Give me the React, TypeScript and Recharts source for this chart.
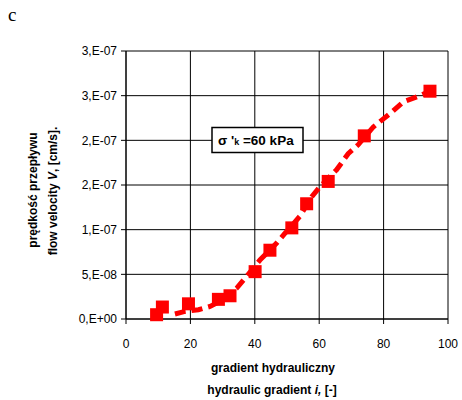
import React from "react"
import { CartesianGrid, Scatter, ScatterChart, XAxis, YAxis } from "recharts"

// hydraulic gradient i [-] vs flow velocity V [cm/s]
const lineGradient = [15.2, 18.3, 22.5, 26.1, 30.2, 34.4, 37.0, 41.6, 46.8, 49.4, 54.0, 57.7, 60.2, 65.4, 69.0, 72.1, 76.8, 82.0, 86.1, 91.3, 94.4]
const lineVelocity = [5.6e-9, 8.5e-9, 1.04e-8, 1.4e-8, 2.16e-8, 3.46e-8, 4.58e-8, 6.6e-8, 8.5e-8, 9.6e-8, 1.15e-7, 1.37e-7, 1.48e-7, 1.67e-7, 1.85e-7, 1.95e-7, 2.15e-7, 2.3e-7, 2.43e-7, 2.5e-7, 2.55e-7]

const pointGradient = [9.5, 11.3, 19.4, 28.7, 32.3, 40.1, 44.7, 51.5, 56.1, 62.8, 74.0, 94.4]
const pointVelocity = [4.8e-9, 1.34e-8, 1.7e-8, 2.2e-8, 2.6e-8, 5.3e-8, 7.7e-8, 1.02e-7, 1.29e-7, 1.54e-7, 2.05e-7, 2.55e-7]

const xTicks = [0, 20, 40, 60, 80, 100]
const yTicks = [0, 5e-8, 1e-7, 1.5e-7, 2e-7, 2.5e-7, 3e-7]
const yTickLabels = ["0,E+00", "5,E-08", "1,E-07", "2,E-07", "2,E-07", "3,E-07", "3,E-07"]

const lineData = lineGradient.map((x, i) => ({ x, y: lineVelocity[i] }))
const pointData = pointGradient.map((x, i) => ({ x, y: pointVelocity[i] }))

const font = "'Liberation Sans', Arial, sans-serif"

const Square = (props: any) => {
    const { cx, cy } = props
    if (cx == null || cy == null) return <g />
    return <rect x={cx - 6.5} y={cy - 6.5} width={13} height={13} fill="#ff0000" />
}

export default function App() {
    return (
        <div style={{ position: "absolute", left: 0, top: 0, background: "#fff" }}>
            <ScatterChart width={462} height={400} margin={{ top: 51, right: 14, bottom: 0, left: 0 }}>
                <CartesianGrid stroke="#000" strokeWidth={1} />
                <XAxis
                    type="number"
                    dataKey="x"
                    domain={[0, 100]}
                    ticks={xTicks}
                    height={81}
                    tickSize={5}
                    tickMargin={15}
                    stroke="#000"
                    tick={{ fill: "#000", fontSize: 12, fontFamily: font }}
                />
                <YAxis
                    type="number"
                    dataKey="y"
                    domain={[0, 3e-7]}
                    ticks={yTicks}
                    width={126}
                    tickSize={5}
                    tickMargin={4}
                    stroke="#000"
                    tick={{ fill: "#000", fontSize: 12, fontFamily: font }}
                    tickFormatter={(v: number) => yTickLabels[yTicks.findIndex((t) => Math.abs(t - v) < 1e-12)] ?? ""}
                />
                <Scatter
                    data={lineData}
                    isAnimationActive={false}
                    line={{ stroke: "#ff0000", strokeWidth: 5, strokeDasharray: "11 6" }}
                    lineType="joint"
                    shape={() => <g />}
                />
                <Scatter data={pointData} isAnimationActive={false} shape={Square} />

                <g fontFamily={font} fontWeight="bold" fontSize={12} fill="#000">
                    <text x={33} y={190} textAnchor="middle" transform="rotate(-90 33 190)" dy="0.35em">
                        prędkość przepływu
                    </text>
                    <text x={53} y={191} textAnchor="middle" transform="rotate(-90 53 191)" dy="0.35em">
                        flow velocity <tspan fontStyle="italic">V</tspan>, [cm/s].
                    </text>
                    <text x={273} y={372} textAnchor="middle">gradient hydrauliczny</text>
                    <text x={272} y={394} textAnchor="middle">
                        hydraulic gradient <tspan fontStyle="italic">i,</tspan> [-]
                    </text>
                </g>

                <g>
                    <rect x={212} y={127.5} width={91} height={25} fill="#fff" stroke="#000" strokeWidth={1.5} />
                    <text x={218} y={145} fontFamily={font} fontWeight="bold" fontSize={13.5} fill="#000">
                        σ '<tspan fontSize={9}>k</tspan> =60 kPa
                    </text>
                </g>

                <text x={8} y={21} fontFamily="'Liberation Serif', 'Times New Roman', serif" fontSize={19} fill="#000">
                    c
                </text>
            </ScatterChart>
        </div>
    )
}
